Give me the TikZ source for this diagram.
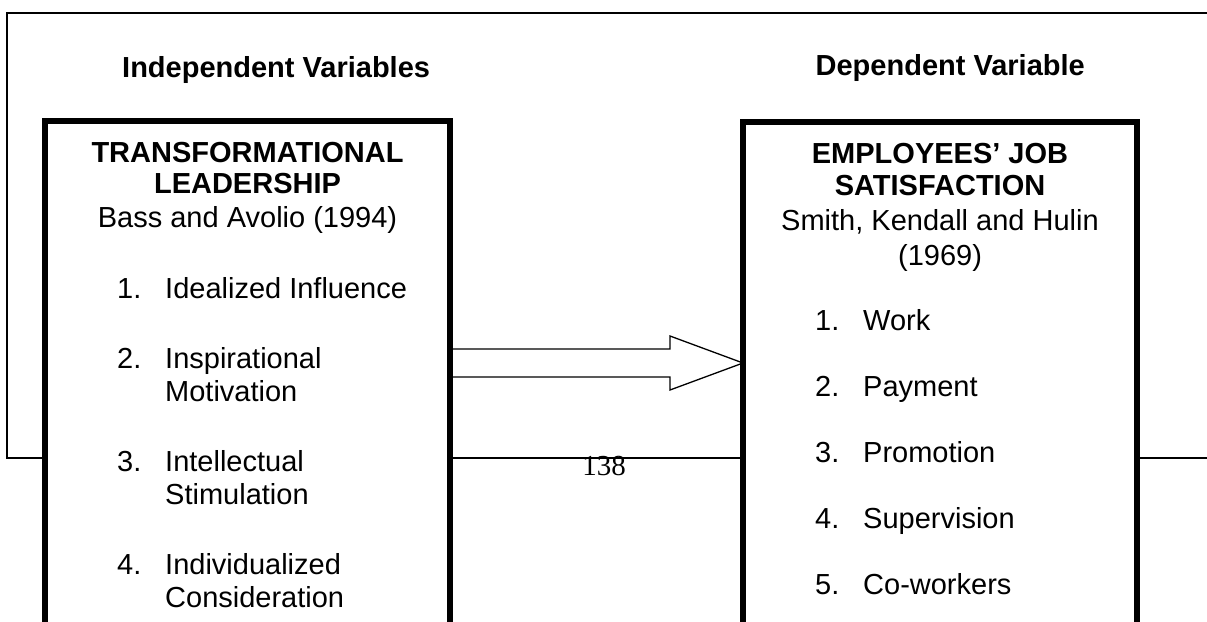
\documentclass[tikz,border=0pt]{standalone}
\usepackage{fontspec}
\setmainfont{Liberation Sans}
\newfontfamily\pagenumfont{Liberation Serif}
\usetikzlibrary{calc}

\begin{document}
\begin{tikzpicture}[x=1pt,y=-1pt,
  frame/.style={line width=1.3pt, line join=miter},
  varbox/.style={draw, line width=6pt, inner sep=0pt, outer sep=0pt, anchor=north west, line join=miter},
  hollowarrow/.style={line width=1.3pt, line join=miter},
  head/.style={font=\fontsize{29}{33}\selectfont\bfseries, anchor=base, inner sep=0pt},
  cite/.style={font=\fontsize{29}{33}\selectfont, anchor=base, inner sep=0pt},
  item/.style={font=\fontsize{29}{33}\selectfont, anchor=base west, inner sep=0pt},
]
\clip (0,0) rectangle (1207,621);
\fill[white] (0,0) rectangle (1207,621);

% the two variable boxes, running past the lower edge
\node[varbox, minimum width=405pt, minimum height=560pt] (lbox) at (45,121) {};
\node[varbox, minimum width=394pt, minimum height=560pt] (rbox) at (743,122) {};

% outer frame, running off to the right, its lower edge interrupted by the boxes
\coordinate (topleft) at (7,13);
\coordinate (topright) at (1212,13);
\coordinate (botleft) at (7,458);
\coordinate (botright) at (1212,458);
\draw[frame] (topright) -- (topleft) -- (botleft) -- (botleft -| lbox.west);
\draw[frame] (botleft -| lbox.east) -- (botleft -| rbox.west);
\draw[frame] (botleft -| rbox.east) -- (botright);

% column headings
\node[head, anchor=base west] (indep) at (122,77) {Independent Variables};
\node[head, anchor=base east] (dep) at (1085,75) {Dependent Variable};

% independent variable
\node[head] (tl1) at (247.5,162) {TRANSFORMATIONAL};
\node[head] (tl2) at (247.5,193) {LEADERSHIP};
\node[cite] (tl3) at (247.5,227) {Bass and Avolio (1994)};

\node[item] (l1n) at (117,298) {1.};
\node[item] (l1)  at (165,298) {Idealized Influence};
\node[item] (l2n) at (117,368) {2.};
\node[item] (l2a) at (165,368) {Inspirational};
\node[item] (l2b) at (165,401) {Motivation};
\node[item] (l3n) at (117,471) {3.};
\node[item] (l3a) at (165,471) {Intellectual};
\node[item] (l3b) at (165,504) {Stimulation};
\node[item] (l4n) at (117,574) {4.};
\node[item] (l4a) at (165,574) {Individualized};
\node[item] (l4b) at (165,607) {Consideration};

% dependent variable
\node[head] (tr1) at (940,163) {EMPLOYEES’ JOB};
\node[head] (tr2) at (940,195) {SATISFACTION};
\node[cite] (tr3) at (940,230) {Smith, Kendall and Hulin};
\node[cite] (tr4) at (940,265) {(1969)};

\node[item] (r1n) at (815,330) {1.};
\node[item] (r1)  at (863,330) {Work};
\node[item] (r2n) at (815,396) {2.};
\node[item] (r2)  at (863,396) {Payment};
\node[item] (r3n) at (815,462) {3.};
\node[item] (r3)  at (863,462) {Promotion};
\node[item] (r4n) at (815,528) {4.};
\node[item] (r4)  at (863,528) {Supervision};
\node[item] (r5n) at (815,594) {5.};
\node[item] (r5)  at (863,594) {Co-workers};

% hollow block arrow between the boxes
\draw[hollowarrow] (lbox.east |- 0,349) -- (670,349) -- (670,336)
  -- (rbox.west |- 0,363) -- (670,390) -- (670,377) -- (lbox.east |- 0,377);

% page number
\node[font=\pagenumfont\fontsize{29}{33}\selectfont, anchor=base, inner sep=0pt] (page) at (604,475) {138};
\end{tikzpicture}
\end{document}
